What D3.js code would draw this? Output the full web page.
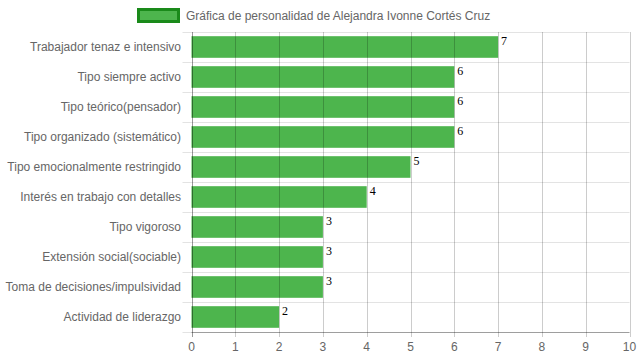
<!DOCTYPE html>
<html><head><meta charset="utf-8">
<script src="https://cdn.jsdelivr.net/npm/d3@7"></script>
<style>body{margin:0;background:#fff}svg{display:block}</style>
</head><body><svg id="c" width="639" height="360"></svg>
<script>
const categories = ["Trabajador tenaz e intensivo","Tipo siempre activo","Tipo teórico(pensador)","Tipo organizado (sistemático)","Tipo emocionalmente restringido","Interés en trabajo con detalles","Tipo vigoroso","Extensión social(sociable)","Toma de decisiones/impulsividad","Actividad de liderazgo"];
const values = [7,6,6,6,5,4,3,3,3,2];
const xTicks = [0,1,2,3,4,5,6,7,8,9,10];
const seriesName = "Gráfica de personalidad de Alejandra Ivonne Cortés Cruz";

const svg = d3.select("#c");
const L = 191.5, R = 629.5, T = 32, B = 332;
const x = d3.scaleLinear().domain([0,10]).range([L,R]);
const y = d3.scaleBand().domain(categories).range([T,B]).paddingInner(0.28).paddingOuter(0.14);
const font = "Arial, 'Liberation Sans', sans-serif";

// horizontal grid lines (category boundaries)
const step = (B-T)/categories.length;
svg.append("g").selectAll("line").data(d3.range(categories.length+1)).join("line")
  .attr("x1", L-9).attr("x2", R)
  .attr("y1", i => Math.round(T+i*step)+0.5).attr("y2", i => Math.round(T+i*step)+0.5)
  .attr("stroke", "#e3e3e3").attr("stroke-width",1);

// bars
svg.append("g").selectAll("rect").data(values).join("rect")
  .attr("x", x(0)).attr("y", (d,i)=>y(categories[i]))
  .attr("width", d => x(d)-x(0)).attr("height", y.bandwidth())
  .attr("fill", "#4db54d");

// vertical grid lines
svg.append("g").selectAll("line").data(xTicks).join("line")
  .attr("x1", d=>Math.round(x(d))+0.5).attr("x2", d=>Math.round(x(d))+0.5)
  .attr("y1", T).attr("y2", B+5)
  .attr("stroke", d=> d===0 ? "rgba(0,0,0,0.4)" : "rgba(0,0,0,0.2)").attr("stroke-width",1);
// x axis line
svg.append("line").attr("x1", L).attr("x2", R).attr("y1", B+0.5).attr("y2", B+0.5)
  .attr("stroke","rgba(0,0,0,0.3)");

// x tick labels
svg.append("g").selectAll("text").data(xTicks).join("text")
  .attr("x", d=>x(d)).attr("y", 351).attr("text-anchor","middle")
  .attr("font-family", font).attr("font-size", 12).attr("fill","#666").text(d=>d);

// y labels
svg.append("g").selectAll("text").data(categories).join("text")
  .attr("x", 181).attr("y", d=> y(d)+y.bandwidth()/2+4).attr("text-anchor","end")
  .attr("font-family", font).attr("font-size", 12).attr("fill","#666").text(d=>d);

// value labels
svg.append("g").selectAll("text").data(values).join("text")
  .attr("x", d=>x(d)+3).attr("y", (d,i)=>y(categories[i])+9)
  .attr("font-family", "'Liberation Serif','Times New Roman',serif").attr("font-size", 12).attr("fill","#000").text(d=>d);

// legend
svg.append("rect").attr("x", 138.5).attr("y", 9.5).attr("width", 40).attr("height", 12)
  .attr("fill","#4db54d").attr("stroke","#1a8a1a").attr("stroke-width",3);
svg.append("text").attr("x", 186).attr("y", 20).attr("font-family", font).attr("font-size",12)
  .attr("fill","#666").text(seriesName);
</script></body></html>
